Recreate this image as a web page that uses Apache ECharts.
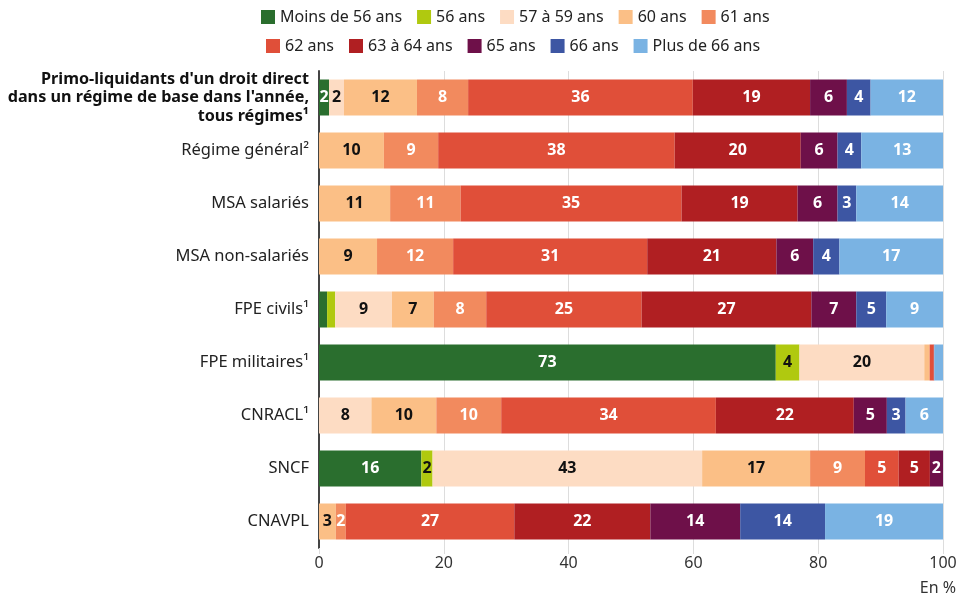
<!DOCTYPE html>
<html>
<head>
<meta charset="utf-8">
<script src="https://cdn.jsdelivr.net/npm/echarts@6/dist/echarts.min.js"></script>
<style>html,body{margin:0;padding:0;background:#fff;}#c{width:962px;height:600px;}</style>
</head>
<body>
<div id="c"></div>
<script>
const categories = [
  "Primo-liquidants d'un droit direct\ndans un régime de base dans l'année,\ntous régimes¹",
  "Régime général²", "MSA salariés", "MSA non-salariés", "FPE civils¹",
  "FPE militaires¹", "CNRACL¹", "SNCF", "CNAVPL"
];
const seriesNames = ["Moins de 56 ans","56 ans","57 à 59 ans","60 ans","61 ans","62 ans","63 à 64 ans","65 ans","66 ans","Plus de 66 ans"];
const colors = ["#2a6e2e","#b0c90f","#fddcc3","#fbbf86","#f28a5e","#e04f39","#b01f22","#6e1049","#3d56a3","#7ab3e3"];
const labelColors = ["#fff","#111","#111","#111","#fff","#fff","#fff","#fff","#fff","#fff"];

const moins56 = [1.6, 0, 0, 0, 1.3, 73.2, 0, 16.4, 0];
const a56     = [0, 0, 0, 0, 1.3, 3.8, 0, 1.8, 0];
const a57_59  = [2.4, 0, 0, 0, 9.1, 20.0, 8.4, 43.2, 0];
const a60     = [11.7, 10.4, 11.4, 9.3, 6.7, 0.8, 10.4, 17.3, 2.7];
const a61     = [8.2, 8.7, 11.3, 12.2, 8.4, 0.1, 10.4, 8.8, 1.6];
const a62     = [36.0, 37.9, 35.4, 31.1, 24.9, 0.6, 34.4, 5.4, 27.0];
const a63_64  = [18.8, 20.2, 18.6, 20.7, 27.2, 0.1, 22.1, 5.0, 21.8];
const a65     = [5.9, 5.9, 6.4, 5.9, 7.2, 0, 5.3, 2.1, 14.4];
const a66     = [3.8, 3.8, 3.0, 4.2, 4.8, 0, 3.0, 0, 13.6];
const plus66  = [11.6, 13.1, 13.9, 16.6, 9.1, 1.4, 6.0, 0, 18.9];
const xTicks = [0, 20, 40, 60, 80, 100];

const values = [moins56, a56, a57_59, a60, a61, a62, a63_64, a65, a66, plus66];
const FONT = "Noto Sans";

const chart = echarts.init(document.getElementById('c'));
const series = seriesNames.map((name, i) => ({
  name: name,
  type: 'bar',
  stack: 'total',
  barWidth: 36,
  data: values[i],
  itemStyle: { color: colors[i] },
  label: {
    show: true,
    position: 'inside',
    color: labelColors[i],
    fontFamily: FONT,
    fontSize: 16,
    fontWeight: 'bold',
    formatter: p => (p.value >= 1.5 ? String(Math.round(p.value)) : '')
  },
  emphasis: { disabled: true }
}));

const legendText = { fontFamily: FONT, fontSize: 16, color: '#222' };
chart.setOption({
  animation: false,
  color: colors,
  legend: [
    { data: seriesNames.slice(0, 5), left: 256, top: 4, itemWidth: 14, itemHeight: 14, itemGap: 15, icon: 'rect', textStyle: legendText, selectedMode: false },
    { data: seriesNames.slice(5), left: 261, top: 33, itemWidth: 14, itemHeight: 14, itemGap: 15, icon: 'rect', textStyle: legendText, selectedMode: false }
  ],
  grid: { left: 319, right: 19, top: 71, bottom: 52, containLabel: false },
  xAxis: {
    type: 'value', min: 0, max: 100, interval: 20,
    axisLine: { show: false },
    axisTick: { show: true, length: 6, lineStyle: { color: '#ddd' } },
    splitLine: { show: true, lineStyle: { color: '#ddd', width: 1 } },
    axisLabel: { fontFamily: FONT, fontSize: 16, color: '#333', margin: 7,
      formatter: v => xTicks.includes(v) ? String(v) : '' }
  },
  yAxis: {
    type: 'category', data: categories, inverse: true,
    axisLine: { show: true, lineStyle: { color: '#444', width: 2 } },
    axisTick: { show: false },
    axisLabel: {
      margin: 10, fontFamily: FONT, fontSize: 16.5, color: '#222', lineHeight: 18.5,
      formatter: (v, idx) => idx === 0 ? '{b|' + v + '}' : v,
      rich: { b: { fontFamily: FONT, fontSize: 16.2, fontWeight: 'bold', color: '#111', lineHeight: 18.5, align: 'right' } }
    }
  },
  graphic: [{
    type: 'text', right: 6, top: 580,
    style: { text: 'En %', fontFamily: FONT, fontSize: 16, fill: '#333' }
  }],
  series: series
});
</script>
</body>
</html>
